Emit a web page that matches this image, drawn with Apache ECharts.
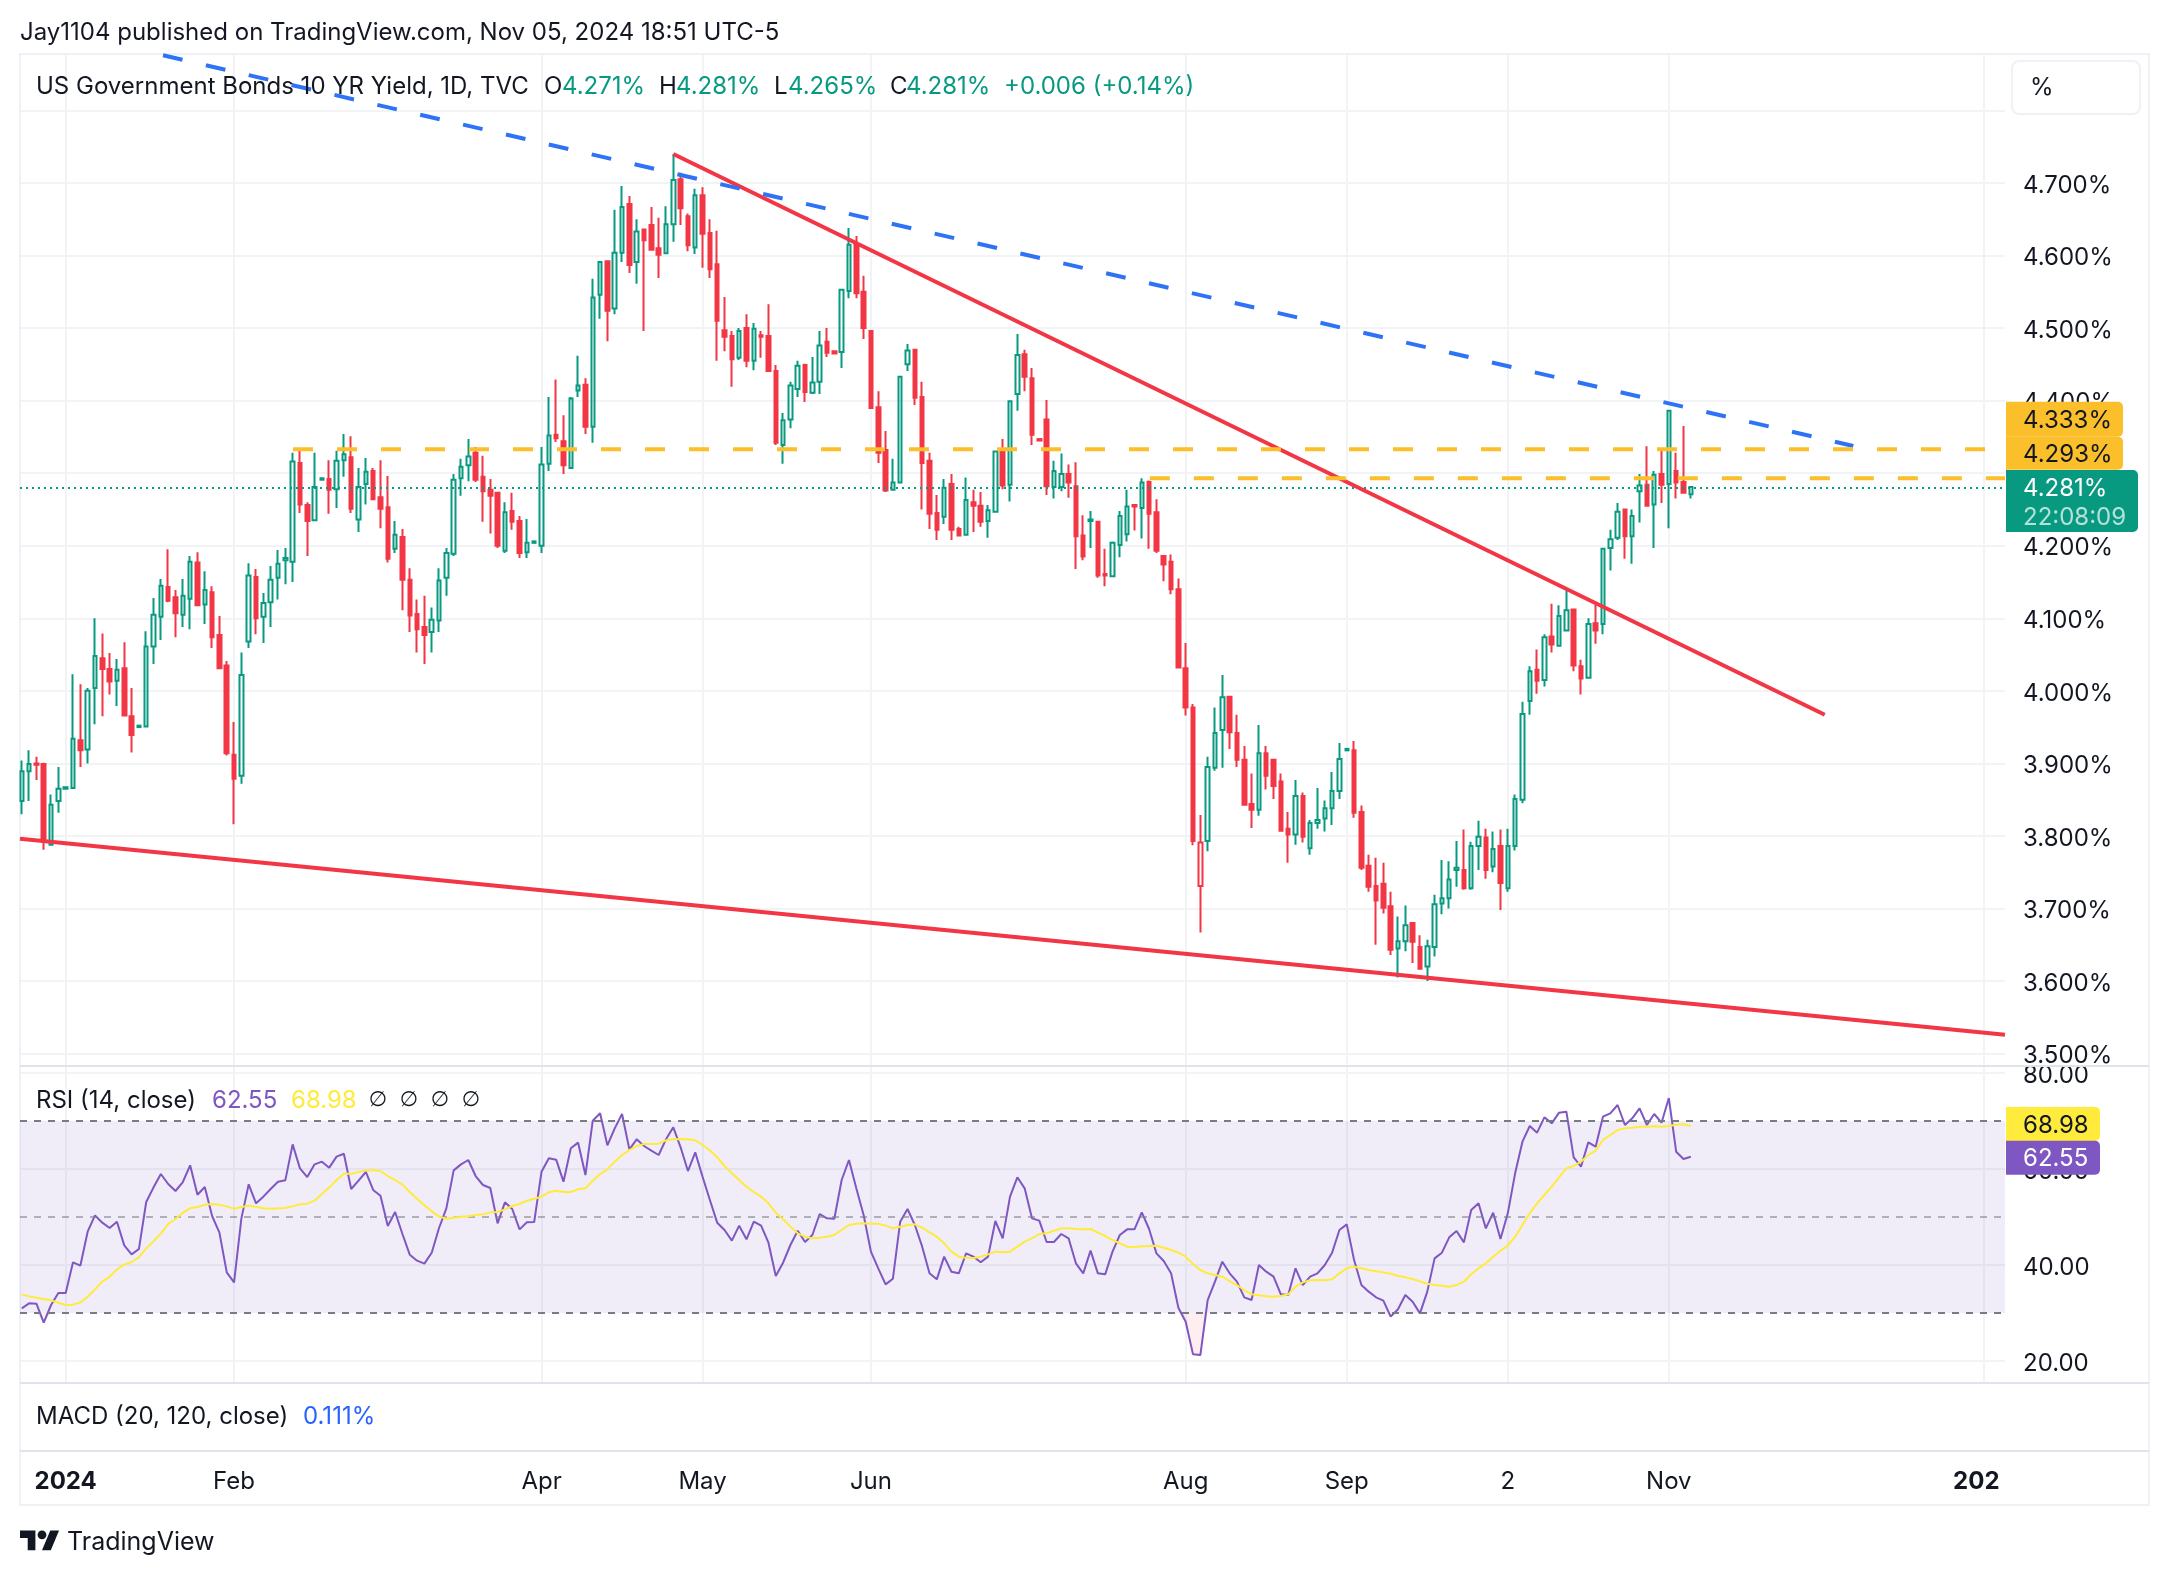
<!DOCTYPE html>
<html>
<head>
<meta charset="utf-8">
<title>US 10Y Yield</title>
<script src="https://cdn.jsdelivr.net/npm/echarts@6/dist/echarts.min.js"></script>
<style>
  html, body { margin: 0; padding: 0; background: #fff; }
  #main { width: 2168px; height: 1576px; }
</style>
</head>
<body>
<div id="main"></div>
<script>
'use strict';
// bars are placed by trading-day number, 0 = first session of 2024
var firstBar = -6;

var opens = [3.848,3.889,3.900,3.899,3.788,3.848,3.865,3.866,3.932,3.919,
4.004,4.045,4.030,4.014,4.031,3.965,3.950,3.951,4.061,4.102,
4.143,4.129,4.105,4.127,4.177,4.119,4.136,4.077,4.035,3.912,
3.883,4.068,4.157,4.102,4.122,4.156,4.180,4.178,4.314,4.256,
4.235,4.291,4.292,4.278,4.318,4.322,4.236,4.285,4.303,4.267,
4.253,4.196,4.212,4.153,4.106,4.088,4.081,4.097,4.156,4.189,
4.293,4.311,4.328,4.295,4.277,4.273,4.193,4.248,4.234,4.191,
4.204,4.200,
4.313,4.353,4.344,4.307,4.414,4.422,4.364,4.546,4.592,4.527,
4.604,4.671,4.591,4.636,4.642,4.610,4.603,4.643,4.705,4.654,
4.611,4.683,4.631,4.588,4.497,4.489,4.459,4.500,4.455,4.490,
4.489,4.441,4.339,4.374,4.416,4.449,4.411,4.426,4.481,4.468,
4.467,4.551,4.616,4.550,4.496,4.391,4.332,4.277,4.287,4.450,
4.470,4.405,4.317,4.245,4.240,4.285,4.223,4.215,4.260,4.255,
4.234,4.247,4.331,4.284,4.409,4.464,4.431,4.347,4.374,4.281,
4.281,4.299,4.282,4.214,4.234,4.233,4.161,4.158,4.201,4.216,
4.256,4.252,4.288,4.246,4.186,4.178,4.140,4.031,3.977,3.731,
3.793,3.894,3.946,3.992,3.942,3.905,3.844,3.836,3.914,3.905,
3.875,3.810,3.802,3.855,3.783,3.818,3.824,3.838,3.862,3.918,
3.918,3.833,3.759,3.731,3.734,3.703,3.645,3.655,3.680,3.647,
3.620,3.647,3.707,3.714,3.753,3.753,3.728,3.786,3.798,3.758,
3.786,3.728,3.786,3.850,3.986,4.029,4.015,4.075,4.062,4.083,
4.112,4.034,4.018,4.093,4.092,4.197,4.211,4.250,4.213,4.275,
4.284,4.257,4.299,4.285,4.303,4.288,4.271];

var highs = [3.904,3.918,3.909,3.901,3.857,3.895,3.868,4.023,4.009,4.004,
4.100,4.079,4.052,4.044,4.067,4.004,3.952,4.082,4.128,4.154,
4.195,4.139,4.154,4.186,4.191,4.165,4.144,4.103,4.041,3.957,
4.053,4.176,4.168,4.135,4.172,4.194,4.197,4.328,4.332,4.260,
4.328,4.293,4.318,4.331,4.354,4.351,4.307,4.321,4.307,4.318,
4.296,4.234,4.223,4.169,4.126,4.131,4.115,4.169,4.197,4.299,
4.320,4.347,4.336,4.324,4.292,4.273,4.260,4.273,4.241,4.237,
4.206,4.336,
4.405,4.429,4.380,4.405,4.462,4.431,4.568,4.592,4.592,4.663,
4.696,4.682,4.650,4.636,4.667,4.652,4.668,4.740,4.714,4.658,
4.692,4.694,4.650,4.634,4.543,4.496,4.500,4.519,4.507,4.496,
4.533,4.449,4.383,4.426,4.455,4.451,4.460,4.496,4.500,4.468,
4.553,4.638,4.627,4.572,4.496,4.413,4.358,4.320,4.433,4.478,
4.470,4.426,4.328,4.270,4.292,4.299,4.226,4.294,4.277,4.274,
4.256,4.330,4.347,4.400,4.492,4.470,4.445,4.347,4.401,4.317,
4.327,4.312,4.315,4.242,4.248,4.233,4.196,4.206,4.248,4.277,
4.257,4.293,4.290,4.264,4.186,4.188,4.155,4.066,3.982,3.829,
3.909,3.977,4.022,3.993,3.967,3.924,3.886,3.953,3.924,3.905,
3.886,3.833,3.877,3.860,3.822,3.866,3.849,3.888,3.928,3.920,
3.931,3.842,3.774,3.770,3.763,3.723,3.689,3.704,3.680,3.663,
3.657,3.719,3.767,3.765,3.793,3.809,3.792,3.821,3.810,3.806,
3.809,3.810,3.857,3.985,4.034,4.057,4.078,4.120,4.118,4.142,
4.112,4.043,4.100,4.119,4.197,4.222,4.259,4.250,4.250,4.299,
4.337,4.303,4.332,4.387,4.328,4.365,4.281];

var lows = [3.830,3.848,3.877,3.781,3.788,3.832,3.864,3.866,3.895,3.900,
3.954,3.965,3.995,3.979,3.966,3.915,3.950,3.951,4.037,4.070,
4.122,4.074,4.088,4.085,4.118,4.092,4.059,4.031,3.911,3.816,
3.872,4.059,4.078,4.066,4.088,4.126,4.147,4.150,4.245,4.186,
4.235,4.291,4.244,4.252,4.295,4.245,4.219,4.257,4.263,4.224,
4.177,4.190,4.111,4.081,4.053,4.037,4.053,4.081,4.131,4.186,
4.269,4.289,4.288,4.233,4.217,4.197,4.190,4.222,4.183,4.183,
4.204,4.190,
4.303,4.343,4.299,4.307,4.405,4.354,4.342,4.513,4.482,4.519,
4.591,4.576,4.561,4.496,4.608,4.569,4.602,4.619,4.642,4.606,
4.602,4.583,4.569,4.455,4.468,4.419,4.456,4.446,4.442,4.459,
4.441,4.339,4.313,4.362,4.405,4.398,4.409,4.409,4.460,4.465,
4.445,4.541,4.541,4.485,4.390,4.314,4.274,4.277,4.287,4.441,
4.394,4.250,4.223,4.208,4.230,4.208,4.214,4.215,4.219,4.226,
4.211,4.247,4.278,4.261,4.386,4.413,4.339,4.345,4.270,4.265,
4.275,4.266,4.168,4.180,4.197,4.156,4.144,4.158,4.184,4.206,
4.221,4.210,4.196,4.190,4.151,4.133,4.032,3.966,3.787,3.667,
3.779,3.890,3.894,3.920,3.895,3.843,3.811,3.828,3.864,3.851,
3.807,3.763,3.788,3.791,3.774,3.810,3.806,3.815,3.851,3.918,
3.825,3.753,3.723,3.650,3.693,3.636,3.605,3.641,3.625,3.617,
3.600,3.634,3.692,3.700,3.730,3.726,3.726,3.753,3.741,3.750,
3.698,3.723,3.780,3.845,3.967,3.996,4.006,4.053,4.061,4.083,
4.027,3.995,4.018,4.065,4.078,4.166,4.208,4.182,4.175,4.232,
4.255,4.197,4.259,4.224,4.265,4.273,4.265];

var closes = [3.889,3.899,3.898,3.794,3.843,3.865,3.867,3.934,3.918,4.000,
4.048,4.030,4.013,4.029,3.966,3.939,3.952,4.061,4.105,4.145,
4.124,4.107,4.131,4.178,4.118,4.139,4.074,4.031,3.914,3.879,
4.022,4.159,4.100,4.121,4.153,4.175,4.183,4.316,4.257,4.234,
4.281,4.293,4.277,4.317,4.326,4.251,4.281,4.302,4.264,4.251,
4.182,4.215,4.153,4.104,4.085,4.077,4.098,4.152,4.190,4.291,
4.309,4.323,4.291,4.275,4.269,4.200,4.246,4.233,4.190,4.204,
4.206,4.312,
4.352,4.348,4.311,4.403,4.421,4.364,4.542,4.591,4.524,4.604,
4.667,4.587,4.633,4.621,4.608,4.601,4.643,4.704,4.665,4.614,
4.683,4.630,4.581,4.510,4.488,4.457,4.496,4.455,4.499,4.488,
4.441,4.342,4.373,4.421,4.448,4.412,4.425,4.476,4.466,4.465,
4.553,4.615,4.548,4.500,4.390,4.328,4.276,4.287,4.433,4.469,
4.404,4.314,4.244,4.222,4.280,4.222,4.214,4.263,4.255,4.233,
4.249,4.330,4.283,4.399,4.463,4.433,4.353,4.345,4.282,4.303,
4.299,4.287,4.213,4.185,4.236,4.159,4.159,4.204,4.241,4.254,
4.254,4.287,4.244,4.193,4.174,4.140,4.032,3.977,3.793,3.791,
3.895,3.942,3.991,3.943,3.905,3.843,3.836,3.914,3.883,3.869,
3.807,3.802,3.855,3.799,3.818,3.822,3.838,3.862,3.906,3.920,
3.832,3.756,3.730,3.711,3.701,3.643,3.655,3.677,3.654,3.617,
3.648,3.706,3.714,3.740,3.756,3.728,3.786,3.799,3.753,3.782,
3.735,3.786,3.851,3.968,4.027,4.014,4.074,4.064,4.103,4.111,
4.035,4.017,4.092,4.083,4.196,4.209,4.247,4.213,4.241,4.283,
4.255,4.298,4.284,4.386,4.287,4.273,4.281];

// the Aug gap-day candle is drawn hollow in red
var hollowRedBar = 155;

var rsiValues = [30.97,32.01,31.94,27.99,31.67,34.17,34.17,40.56,39.86,46.94,
50.35,48.82,47.71,49.03,44.10,42.22,43.33,53.13,56.18,58.96,
56.88,55.42,57.29,60.76,54.65,56.25,50.21,46.74,38.47,36.39,
49.72,56.81,52.85,54.24,55.83,57.36,57.64,65.14,60.14,58.33,
60.97,61.53,60.28,62.57,63.19,55.83,57.57,59.38,55.63,54.44,
48.13,51.04,46.46,42.15,40.90,40.28,42.57,47.71,51.81,59.72,
60.97,61.88,58.54,56.67,56.04,48.68,53.06,51.67,47.43,48.89,
48.96,59.45,
62.22,61.95,57.36,64.31,65.49,58.75,70.07,71.60,64.93,68.47,
71.46,64.10,66.18,64.79,63.82,62.92,66.18,68.68,64.52,59.58,
63.47,58.40,53.54,48.82,47.29,45.07,48.20,45.35,49.03,48.20,
44.65,37.71,40.49,44.17,47.15,44.79,46.25,50.63,49.72,49.65,
57.71,61.88,55.97,50.42,42.78,39.31,35.97,37.15,49.03,51.67,
48.33,43.82,38.27,37.02,41.74,38.61,38.27,42.43,41.74,40.56,
41.74,49.17,45.56,54.24,58.27,55.97,49.72,49.24,44.79,44.79,
46.46,45.56,40.35,38.27,42.99,38.27,38.06,42.78,46.25,47.43,
47.43,50.97,47.50,42.43,40.83,38.27,31.11,28.20,21.39,21.25,
32.71,36.53,40.70,38.27,36.53,33.27,32.71,40.00,38.61,37.57,
33.89,33.75,39.31,35.83,37.57,38.27,40.00,42.57,47.29,48.47,
41.04,35.83,34.45,33.27,32.57,29.24,30.77,33.75,32.36,29.93,
34.45,41.39,42.57,45.77,47.08,44.72,51.46,52.85,47.64,50.90,
45.42,50.77,59.10,65.70,68.96,67.57,70.77,69.52,71.74,71.95,
62.43,60.49,65.56,64.65,70.90,71.60,73.33,69.17,70.56,72.64,
69.17,71.46,69.65,74.79,63.61,62.08,62.55];

var rsiMaValues = [33.89,33.47,33.19,32.92,32.64,32.15,31.67,31.74,32.22,33.40,
34.93,36.53,37.57,39.10,40.07,40.63,41.60,43.47,44.93,46.60,
48.54,49.58,50.90,51.81,52.08,52.57,52.71,52.57,52.22,51.74,
52.08,52.36,52.15,51.81,51.74,51.81,51.88,52.22,52.64,52.78,
53.40,54.79,56.18,57.71,59.03,59.03,59.38,59.72,59.72,59.58,
58.54,57.71,56.74,55.21,53.82,52.43,51.18,50.14,49.65,49.86,
50.07,50.14,50.42,50.56,50.97,51.04,51.60,52.29,52.71,53.40,
53.82,54.24,
55.14,55.49,55.21,55.21,55.77,55.97,57.57,58.96,59.93,61.53,
62.92,63.96,64.79,65.21,65.21,65.28,65.97,66.18,66.25,66.18,
65.97,65.00,63.89,62.43,60.63,59.10,57.71,56.32,55.21,54.24,
52.85,50.90,49.52,47.99,46.60,45.90,45.56,45.70,45.90,46.25,
47.29,48.33,48.61,48.68,48.61,48.61,48.20,47.64,47.99,48.33,
48.47,47.78,46.81,45.90,44.52,42.78,41.74,41.53,41.46,41.74,
42.22,42.78,42.64,42.78,43.82,44.86,45.56,46.46,46.60,47.15,
47.64,47.64,47.50,47.43,47.50,46.74,46.04,45.21,44.52,43.82,
43.75,43.89,43.96,44.03,43.61,43.13,42.57,41.74,40.21,38.96,
38.27,37.92,37.57,36.67,35.83,34.79,33.89,33.68,33.47,33.40,
33.54,33.89,35.49,36.39,36.81,36.88,36.81,37.02,38.27,39.31,
39.65,39.31,38.96,38.68,38.47,38.20,37.71,37.43,37.08,36.60,
36.11,35.83,35.70,35.49,35.83,36.53,38.06,39.31,40.35,41.74,
42.99,44.03,45.90,48.33,50.77,52.85,54.58,56.32,58.27,60.14,
60.63,61.53,62.92,63.82,66.04,67.08,68.13,68.47,68.61,68.82,
68.82,68.89,68.82,68.96,69.24,69.31,68.98];

// drawn trend lines, [bar, yield]
var lowerSupport = [[-6.24, 3.796], [264.92, 3.526]];
var fallingResistance = [[83, 4.74], [240.3, 3.967]];
var longResistance = [[13.29, 4.876], [244.2, 4.3375]];
var level4333 = [[31.05, 4.333], [264.92, 4.333]];
var level4293 = [[148.1, 4.293], [264.92, 4.293]];

var priceTicks = [3.5,3.6,3.7,3.8,3.9,4.0,4.1,4.2,4.3,4.4,4.5,4.6,4.7,4.8];
var priceLabels = [3.5,3.6,3.7,3.8,3.9,4.0,4.1,4.2,4.4,4.5,4.6,4.7];
var rsiTicks = [20,40,60,80];
var timeGridBars = [0,23,65,87,110,153,175,197,219,262];
var timeLabelBars = [0,23,65,87,110,153,175,197,219,261];
var timeLabelNames = ['2024','Feb','Apr','May','Jun','Aug','Sep','2','Nov','202'];

var lastPrice = 4.281;
var lastRsi = 62.55;
var lastRsiMa = 68.98;

var UP = '#089981', DOWN = '#F23645', BLUE = '#2e73f5', GOLD = '#fbbf2c';
var PURPLE = '#7e57c2', YELLOW = '#ffeb3b', INK = '#131722';
var GRID = '#f2f3f5', FRAME = '#eff1f6', SEP = '#e0e3eb';
var FONT = 'Inter, Roboto, sans-serif';
var FS = 24;

var xMin = -6.243, xMax = 264.92;

// rich text so the scale labels can sit a little under their grid line
var scaleRich = { s: { fontFamily: FONT, fontSize: FS, color: INK, padding: [5, 0, 0, 0] } };

var candleData = opens.map(function (o, k) {
  var bar = k + firstBar;
  var row = [bar, o, closes[k], lows[k], highs[k]];
  if (bar === hollowRedBar) {
    return { value: row, itemStyle: { borderColor: DOWN, borderColor0: DOWN } };
  }
  return row;
});

function withBar(values) {
  return values.map(function (v, k) { return [k + firstBar, v]; });
}

function trendLine(points, color, width, dash) {
  return {
    type: 'line', data: points, xAxisIndex: 0, yAxisIndex: 0,
    symbol: 'none', silent: true, z: 5,
    lineStyle: { color: color, width: width, type: dash || 'solid' }
  };
}

function xAxisBase(idx) {
  return {
    type: 'value', gridIndex: idx, min: xMin, max: xMax,
    axisLine: { show: false },
    axisTick: { show: false, customValues: timeGridBars },
    axisLabel: { show: false },
    splitLine: { show: true, lineStyle: { color: GRID, width: 2 } }
  };
}

function txt(x, y, text, color, extra) {
  var style = { x: x, y: y + 1.5, text: text, fill: color || INK, font: (extra && extra.font) || (FS + 'px ' + FONT), verticalAlign: 'middle', align: (extra && extra.align) || 'left' };
  return { type: 'text', z: 50, silent: true, style: style };
}

var chartDom = document.getElementById('main');
var myChart = echarts.init(chartDom, null, { renderer: 'canvas' });

var timeAxis = xAxisBase(2);
timeAxis.splitLine = { show: false };
timeAxis.axisLabel = {
  show: true, margin: 19, color: INK, fontFamily: FONT, fontSize: FS,
  customValues: timeLabelBars, hideOverlap: false, showMinLabel: true, showMaxLabel: true,
  formatter: function (v) {
    var name = timeLabelNames[timeLabelBars.indexOf(v)];
    return name.indexOf('202') === 0 ? '{y|' + name + '}' : name;
  },
  rich: { y: { fontFamily: FONT, fontSize: FS, fontWeight: 'bold', color: INK } }
};

var option = {
  backgroundColor: '#ffffff',
  animation: false,
  grid: [
    { left: 20, top: 55, width: 1985, height: 1011 },
    { left: 20, top: 1066, width: 1985, height: 316 },
    { left: 20, top: 1383, width: 1985, height: 68 }
  ],
  xAxis: [xAxisBase(0), xAxisBase(1), timeAxis],
  yAxis: [
    {
      type: 'value', gridIndex: 0, position: 'right', min: 3.4829, max: 4.8764,
      axisLine: { show: false },
      axisTick: { show: false, customValues: priceTicks },
      axisLabel: {
        margin: 18, color: INK, fontFamily: FONT, fontSize: FS, customValues: priceLabels,
        rich: scaleRich,
        formatter: function (v) { return '{s|' + v.toFixed(3) + '%}'; }
      },
      splitLine: { show: true, lineStyle: { color: GRID, width: 2 } }
    },
    {
      type: 'value', gridIndex: 1, position: 'right', min: 15.63, max: 81.46,
      axisLine: { show: false },
      axisTick: { show: false, customValues: rsiTicks },
      axisLabel: {
        margin: 18, color: INK, fontFamily: FONT, fontSize: FS, customValues: rsiTicks,
        rich: scaleRich,
        formatter: function (v) { return '{s|' + v.toFixed(2) + '}'; }
      },
      splitLine: { show: true, lineStyle: { color: GRID, width: 2 } }
    },
    { type: 'value', gridIndex: 2, show: false, min: 0, max: 1, splitLine: { show: false } }
  ],
  series: [
    {
      type: 'candlestick', xAxisIndex: 0, yAxisIndex: 0, data: candleData,
      barWidth: 4, silent: true,
      itemStyle: { color: 'rgba(0,0,0,0)', color0: DOWN, borderColor: UP, borderColor0: DOWN, borderWidth: 2 },
      markLine: {
        silent: true, symbol: 'none', label: { show: false },
        lineStyle: { color: UP, width: 2, type: [2, 4] },
        data: [{ yAxis: lastPrice }]
      }
    },
    trendLine(lowerSupport, DOWN, 4),
    trendLine(fallingResistance, DOWN, 4),
    trendLine(longResistance, BLUE, 4, [20, 24]),
    trendLine(level4333, GOLD, 4, [20, 24]),
    trendLine(level4293, GOLD, 4, [20, 24]),
    {
      // pink wash where the RSI dips under 30
      type: 'line', xAxisIndex: 1, yAxisIndex: 1, symbol: 'none', silent: true,
      data: withBar(rsiValues.map(function (v) { return Math.min(v, 30); })),
      lineStyle: { width: 0 },
      areaStyle: { origin: 30, color: 'rgba(242,54,69,0.12)' }
    },
    {
      type: 'line', name: 'RSI', xAxisIndex: 1, yAxisIndex: 1, symbol: 'none', silent: true,
      data: withBar(rsiValues), z: 4,
      lineStyle: { color: PURPLE, width: 2 },
      markArea: {
        silent: true, itemStyle: { color: 'rgba(126,87,194,0.11)' },
        data: [[{ yAxis: 70 }, { yAxis: 30 }]]
      },
      markLine: {
        silent: true, symbol: 'none', label: { show: false },
        data: [
          { yAxis: 70, lineStyle: { color: '#787b86', width: 2, type: [7, 7] } },
          { yAxis: 50, lineStyle: { color: 'rgba(120,123,134,0.55)', width: 2, type: [7, 7] } },
          { yAxis: 30, lineStyle: { color: '#787b86', width: 2, type: [7, 7] } }
        ]
      }
    },
    {
      type: 'line', name: 'RSI MA', xAxisIndex: 1, yAxisIndex: 1, symbol: 'none', silent: true,
      data: withBar(rsiMaValues), z: 5,
      lineStyle: { color: YELLOW, width: 2 }
    }
  ],
  graphic: []
};

myChart.setOption(option);

// fixed page furniture
var furniture = [
  { type: 'rect', z: 1, silent: true, shape: { x: 20, y: 54, width: 2129, height: 1451 }, style: { fill: 'none', stroke: FRAME, lineWidth: 2 } },
  { type: 'line', z: 40, silent: true, shape: { x1: 20, y1: 1066, x2: 2149, y2: 1066 }, style: { stroke: SEP, lineWidth: 2 } },
  { type: 'line', z: 40, silent: true, shape: { x1: 20, y1: 1383, x2: 2149, y2: 1383 }, style: { stroke: SEP, lineWidth: 2 } },
  { type: 'line', z: 40, silent: true, shape: { x1: 20, y1: 1451, x2: 2149, y2: 1451 }, style: { stroke: SEP, lineWidth: 2 } },
  { type: 'rect', z: 40, silent: true, shape: { x: 2012, y: 61, width: 128, height: 53, r: 7 }, style: { fill: '#fff', stroke: FRAME, lineWidth: 2 } },
  txt(2030, 86, '%'),
  txt(20, 31, 'Jay1104 published on TradingView.com, Nov 05, 2024 18:51 UTC-5'),
  txt(36, 85, 'US Government Bonds 10 YR Yield, 1D, TVC'),
  txt(544, 85, 'O'), txt(562, 85, '4.271%', UP),
  txt(659, 85, 'H'), txt(676, 85, '4.281%', UP),
  txt(774, 85, 'L'), txt(788, 85, '4.265%', UP),
  txt(890, 85, 'C'), txt(906, 85, '4.281%', UP),
  txt(1004, 85, '+0.006 (+0.14%)', UP),
  txt(36, 1099, 'RSI (14, close)'),
  txt(212, 1099, '62.55', PURPLE), txt(291, 1099, '68.98', YELLOW),
  txt(378, 1099, '\u2205', INK, { align: 'center', font: '21px "DejaVu Sans"' }),
  txt(409, 1099, '\u2205', INK, { align: 'center', font: '21px "DejaVu Sans"' }),
  txt(440, 1099, '\u2205', INK, { align: 'center', font: '21px "DejaVu Sans"' }),
  txt(471, 1099, '\u2205', INK, { align: 'center', font: '21px "DejaVu Sans"' }),
  txt(36, 1415, 'MACD (20, 120, close)'),
  txt(303, 1415, '0.111%', '#2962ff'),
  txt(67, 1541, 'TradingView', INK, { font: '25px ' + FONT }),
  {
    // TradingView mark
    type: 'group', x: 20, y: 1526, scaleX: 1.1, scaleY: 1.1, silent: true, z: 50,
    children: [
      { type: 'polygon', z: 50, shape: { points: [[0, 4], [14, 4], [14, 22], [7, 22], [7, 11], [0, 11]] }, style: { fill: INK } },
      { type: 'polygon', z: 50, shape: { points: [[20, 22], [28, 22], [35.5, 4], [27.5, 4]] }, style: { fill: INK } },
      { type: 'circle', z: 50, shape: { cx: 20, cy: 8, r: 4 }, style: { fill: INK } }
    ]
  }
];

// value tags on the right scale sit next to where the axis puts their values
function tag(yCenter, height, width, color, r) {
  return { type: 'rect', z: 45, silent: true, shape: { x: 2006, y: yCenter - height / 2, width: width, height: height, r: r }, style: { fill: color } };
}
var y4333 = myChart.convertToPixel({ yAxisIndex: 0 }, 4.333);
var y4293 = myChart.convertToPixel({ yAxisIndex: 0 }, 4.293);
var yLast = myChart.convertToPixel({ yAxisIndex: 0 }, lastPrice);
var yMa = myChart.convertToPixel({ yAxisIndex: 1 }, lastRsiMa);
var yRsi = myChart.convertToPixel({ yAxisIndex: 1 }, lastRsi);

var tags = [
  tag(y4333 - 30, 35, 117, GOLD, [0, 5, 5, 0]),
  txt(2023, y4333 - 30, '4.333%'),
  tag(y4293 - 25, 33, 117, GOLD, [0, 5, 5, 0]),
  txt(2023, y4293 - 25, '4.293%'),
  { type: 'rect', z: 46, silent: true, shape: { x: 2006, y: yLast - 17, width: 132, height: 62, r: [0, 5, 5, 0] }, style: { fill: UP } },
  txt(2023, yLast, lastPrice.toFixed(3) + '%', '#fff'),
  txt(2023, yLast + 29, '22:08:09', 'rgba(255,255,255,0.7)'),
  tag(yMa - 2, 34, 94, YELLOW, [0, 5, 5, 0]),
  txt(2023, yMa - 2, lastRsiMa.toFixed(2)),
  tag(yRsi + 1, 34, 94, PURPLE, [0, 5, 5, 0]),
  txt(2023, yRsi + 1, lastRsi.toFixed(2), '#fff')
];
tags.forEach(function (t) { if (t.type === 'text') { t.z = 47; } });

myChart.setOption({ graphic: { elements: furniture.concat(tags) } });
</script>
</body>
</html>
